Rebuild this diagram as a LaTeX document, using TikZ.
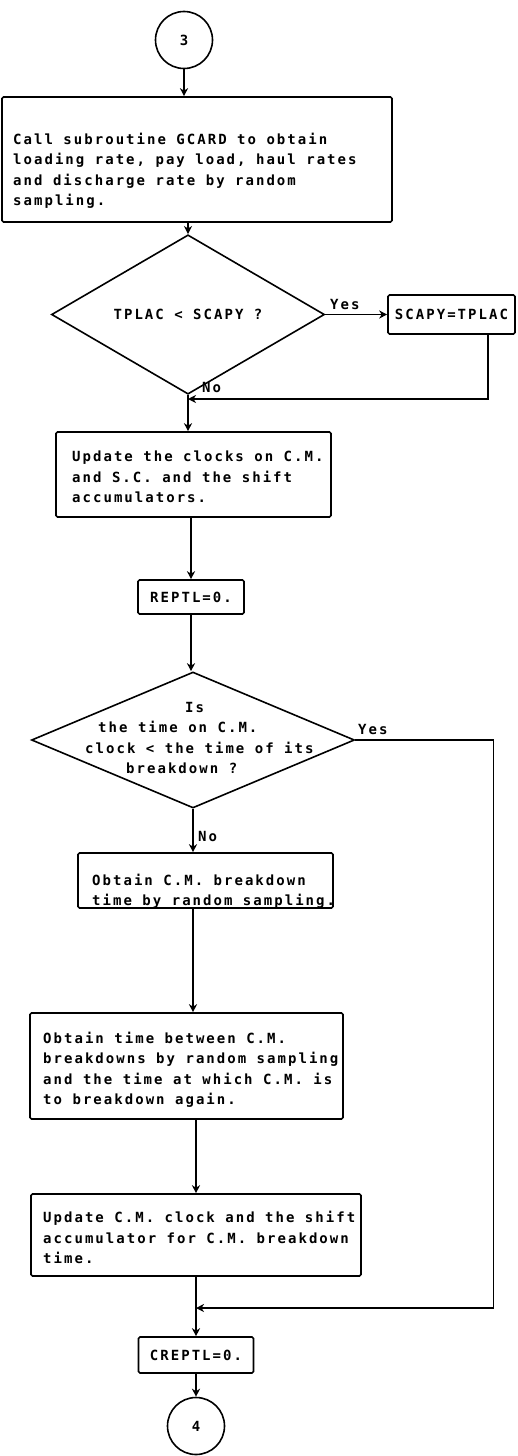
\documentclass[tikz,border=0pt]{standalone}
\usepackage{fontspec}
\newfontfamily\typer{DejaVu Sans Mono}[LetterSpace=14.5]
\usetikzlibrary{shapes.geometric,arrows.meta,calc}

\begin{document}
\begin{tikzpicture}[x=1pt,y=-1pt,
  every node/.style={font=\typer\bfseries\fontsize{14}{20.5}\selectfont},
  frame/.style={draw,line width=1.6pt,rounded corners=1.5pt,inner sep=0pt},
  decision/.style={draw,diamond,line width=1.6pt,inner sep=0pt},
  term/.style={draw,circle,line width=1.6pt,minimum size=57pt,inner sep=0pt},
  para/.style={align=left,inner sep=0pt,anchor=base west},
  lbl/.style={inner sep=0pt,anchor=base west},
  arr/.style={draw,line width=1.6pt,-{Stealth[length=8pt,width=8pt,inset=2.5pt]}}]
\useasboundingbox (0,0) rectangle (518,1456);

% entry connector
\node[term] (c3) at (184,40) {3};

% GCARD call (text nodes are anchored on their last line)
\node[frame,minimum width=390pt,minimum height=125pt] (b1) at (197,159.5) {};
\node[para] (b1t) at (13,205.5) {Call subroutine GCARD to obtain\\loading rate, pay load, haul rates\\and discharge rate by random\\sampling.};
\draw[arr] (c3.south) -- (c3.south |- b1.north);

% capacity test
\node[decision,minimum width=273pt,minimum height=119pt] (d1) at (188,314.5) {TPLAC < SCAPY ?};
\draw[arr] (d1.north |- b1.south) -- (d1.north);
\node[frame,minimum width=127pt,minimum height=39pt] (bs) at (451.5,314.5) {SCAPY=TPLAC};
\node[lbl] (y1) at (330,309.5) {Yes};
\draw[arr] (d1.east) -- (bs.west);
\coordinate (m1) at (188,399);
\draw[arr] ($(bs.south west)+(101,0)$) |- (m1);
\node[lbl] (n1) at (202,392) {No};

% clock update
\node[frame,minimum width=275pt,minimum height=85pt] (b2) at (193.5,474.5) {};
\node[para] (b2t) at (72,502.5) {Update the clocks on C.M.\\and S.C. and the shift\\accumulators.};
\draw[arr] (d1.south) -- (d1.south |- b2.north);

\node[frame,minimum width=106pt,minimum height=34pt] (r1) at (191,597) {REPTL=0.};
\draw[arr] (r1.north |- b2.south) -- (r1.north);

% breakdown test
\node[decision,minimum width=323pt,minimum height=136pt] (d2) at (193,740) {};
\node[para] (d2t) at (85,773.5) {\hspace*{100pt}Is\\\hspace*{13pt}the time on C.M.\\clock < the time of its\\\hspace*{41pt}breakdown ?};
\draw[arr] (r1.south) -- (r1.south |- d2.north);
\node[lbl] (y2) at (358,734.5) {Yes};
\node[lbl] (n2) at (198,841.5) {No};

\node[frame,minimum width=255pt,minimum height=55pt] (b3) at (205.5,880.5) {};
\node[para] (b3t) at (92,905.5) {Obtain C.M. breakdown\\time by random sampling.};
\draw[arr] (d2.south) -- (d2.south |- b3.north);

\node[frame,minimum width=313pt,minimum height=106pt] (b4) at (186.5,1066) {};
\node[para] (b4t) at (43,1104.5) {Obtain time between C.M.\\breakdowns by random sampling\\and the time at which C.M. is\\to breakdown again.};
\draw[arr] (b3.south -| d2.south) -- (b4.north -| d2.south);

\node[frame,minimum width=330pt,minimum height=82pt] (b5) at (196,1235) {};
\node[para] (b5t) at (43,1263.5) {Update C.M. clock and the shift\\accumulator for C.M. breakdown\\time.};
\draw[arr] (b4.south -| b5.north) -- (b5.north);

\node[frame,minimum width=115pt,minimum height=36pt] (cr) at (196,1355) {CREPTL=0.};
\draw[arr] (b5.south) -- (cr.north);
\coordinate (m2) at (196,1308);
\draw[arr] (d2.east) -- ++(138,0) |- (m2);

% exit connector
\node[term] (c4) at (196,1426) {4};
\draw[arr] (cr.south) -- (c4.north);
\end{tikzpicture}
\end{document}
